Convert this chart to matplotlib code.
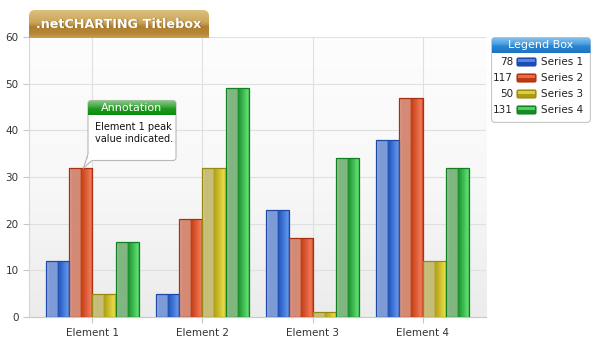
import numpy as np
import matplotlib
matplotlib.use("Agg")
import matplotlib.pyplot as plt
from matplotlib.patches import FancyBboxPatch, Rectangle
from matplotlib.colors import to_rgb

categories = ["Element 1", "Element 2", "Element 3", "Element 4"]
series_names = ["Series 1", "Series 2", "Series 3", "Series 4"]
series_1 = [12, 5, 23, 38]
series_2 = [32, 21, 17, 47]
series_3 = [5, 32, 1, 12]
series_4 = [16, 49, 34, 32]
series_values = [series_1, series_2, series_3, series_4]
y_ticks = [0, 10, 20, 30, 40, 50, 60]

# (muted left face, dark right face, bright right face, outline)
palettes = [
    ("#7d9bd6", "#1b4eb5", "#6096ee", "#1d48a8"),
    ("#d48a74", "#c0390f", "#f27a58", "#a83010"),
    ("#c6be78", "#ad9c12", "#e8dc48", "#978810"),
    ("#80b680", "#178a28", "#60e072", "#108020"),
]

W, H = 600, 343
fig = plt.figure(figsize=(W / 100, H / 100), dpi=100)
fig.patch.set_facecolor("white")


def fbox(x0, y0, x1, y1):
    """Pixel box (top-left origin) to figure-fraction rect."""
    return [x0 / W, 1 - y1 / H, (x1 - x0) / W, (y1 - y0) / H]


def mix(c1, c2, t):
    a, b = np.array(to_rgb(c1)), np.array(to_rgb(c2))
    return a * (1 - t) + b * t


def bar_gradient(pal, n=64):
    muted, dark, bright, edge = pal
    t = np.linspace(0, 1, n)
    cols = []
    for v in t:
        if v < 0.48:
            c = mix(mix(muted, "white", 0.35), muted, min(v / 0.12, 1.0))
        elif v < 0.92:
            c = mix(dark, bright, (v - 0.48) / 0.44)
        else:
            c = mix(bright, dark, (v - 0.92) / 0.08 * 0.6)
        cols.append(c)
    return np.array(cols)[None, :, :]


def vgrad(stops, n=64):
    t = np.linspace(0, 1, n)
    pos = [s[0] for s in stops]
    cols = [np.array(to_rgb(s[1])) for s in stops]
    out = np.zeros((n, 1, 3))
    for i, v in enumerate(t):
        out[i, 0] = [np.interp(v, pos, [c[k] for c in cols]) for k in range(3)]
    return out


# ---- main plot area ----
ax = fig.add_axes(fbox(29, 37, 486, 317))
ax.set_zorder(1)
bg = vgrad([(0, "#fdfdfd"), (0.5, "#f8f8f8"), (1, "#ececec")])
ax.imshow(bg, extent=[0, 1, 0, 1], transform=ax.transAxes, aspect="auto", zorder=0)

x = np.arange(len(categories))
bw = 0.211
offsets = (np.arange(4) - 1.5) * bw
for s, vals in enumerate(series_values):
    pal = palettes[s]
    bars = ax.bar(x + offsets[s], vals, width=bw, facecolor="none",
                  edgecolor=pal[3], linewidth=0.9, zorder=4)
    grad = bar_gradient(pal)
    for r in bars:
        x0, y0 = r.get_x(), r.get_y()
        im = ax.imshow(grad, extent=[x0, x0 + r.get_width(), y0, y0 + r.get_height()],
                       aspect="auto", zorder=3, interpolation="bilinear")
        im.set_clip_path(r)

ax.set_xlim(-0.577, 3.577)
ax.set_ylim(0, 60)
ax.set_yticks(y_ticks)
ax.set_xticks(x)
ax.set_xticklabels(categories)
ax.grid(True, color="#e0e0e0", linewidth=0.8, zorder=1)
ax.set_axisbelow(True)
for sp in ["top", "right"]:
    ax.spines[sp].set_visible(False)
ax.spines["left"].set_color("#d6d6d6")
ax.spines["bottom"].set_color("#c8c8c8")
ax.tick_params(axis="both", colors="#c8c8c8", labelcolor="#333333", labelsize=7.5,
               length=4, width=0.8)
ax.tick_params(axis="x", pad=4)

# ---- title tab ----
tax = fig.add_axes(fbox(29, 10, 209, 38))
tax.set_axis_off()
tax.set_xlim(29, 209)
tax.set_ylim(38, 10)
tax.set_zorder(2)
tg = vgrad([(0, "#dcc07e"), (0.45, "#c9a55a"), (0.6, "#b07f2c"), (0.85, "#b5873a"), (1, "#c9a04c")])
im = tax.imshow(tg, extent=[29, 209, 38, 10], aspect="auto", zorder=1)
clip = FancyBboxPatch((29, 10), 180, 40, boxstyle="round,pad=0,rounding_size=6",
                      facecolor="none", edgecolor="none")
tax.add_patch(clip)
im.set_clip_path(clip)
tfont = dict(ha="center", va="center", fontsize=9.2, fontweight="bold",
             family="DejaVu Sans", zorder=3)
tax.text(119.7, 24.7, ".netCHARTING Titlebox", color="#6a4a18", alpha=0.5, **tfont)
tax.text(119, 24, ".netCHARTING Titlebox", color="white", **tfont)

# ---- legend box ----
lax = fig.add_axes(fbox(491, 37, 591, 123))
lax.set_axis_off()
lax.set_xlim(491, 591)
lax.set_ylim(123, 37)
lax.set_zorder(2)
lframe = FancyBboxPatch((491.5, 37.5), 99, 85, boxstyle="round,pad=0,rounding_size=4",
                        facecolor="white", edgecolor="#c8c8c8", linewidth=0.9, zorder=1)
lax.add_patch(lframe)
hg = vgrad([(0, "#8cc4ec"), (0.45, "#4a9ee0"), (0.55, "#2a86d2"), (1, "#1a74c4")])
him = lax.imshow(hg, extent=[491.5, 590.5, 53, 37.5], aspect="auto", zorder=2)
hclip = FancyBboxPatch((491.5, 37.5), 99, 30, boxstyle="round,pad=0,rounding_size=4",
                       facecolor="none", edgecolor="none")
lax.add_patch(hclip)
him.set_clip_path(hclip)
lax.text(541, 45.5, "Legend Box", ha="center", va="center", color="white", fontsize=8,
         zorder=3)
for i, name in enumerate(series_names):
    yc = 62 + i * 16
    lax.text(513, yc, str(sum(series_values[i])), ha="right", va="center",
             fontsize=7.5, color="#222222", zorder=3)
    pal = palettes[i]
    lax.add_patch(FancyBboxPatch((517, yc - 4), 19, 8, boxstyle="round,pad=0,rounding_size=1.5",
                                 facecolor=pal[1], edgecolor=pal[3], linewidth=0.8, zorder=3))
    lax.add_patch(Rectangle((518, yc - 3.2), 17, 3, facecolor=pal[2], edgecolor="none",
                            alpha=0.8, zorder=4))
    lax.text(541, yc, name, ha="left", va="center", fontsize=7.5, color="#222222", zorder=3)

# ---- annotation callout ----
aax = fig.add_axes(fbox(80, 98, 180, 172))
aax.set_axis_off()
aax.set_xlim(80, 180)
aax.set_ylim(172, 98)
aax.set_zorder(3)
aax.add_patch(FancyBboxPatch((88, 100.5), 88, 60, boxstyle="round,pad=0,rounding_size=3",
                             facecolor="white", edgecolor="#b8b8b8", linewidth=0.8, zorder=1))
ag = vgrad([(0, "#8ccc8c"), (0.4, "#4aaa4a"), (0.6, "#1a9a1a"), (1, "#0c8a0c")])
aim = aax.imshow(ag, extent=[88, 176, 115, 100.5], aspect="auto", zorder=2)
aclip = FancyBboxPatch((88, 100.5), 88, 25, boxstyle="round,pad=0,rounding_size=3",
                       facecolor="none", edgecolor="none")
aax.add_patch(aclip)
aim.set_clip_path(aclip)
aax.text(132, 108, "Annotation", ha="center", va="center", color="white", fontsize=8,
         zorder=3)
aax.text(95, 133, "Element 1 peak\nvalue indicated.", ha="left", va="center",
         fontsize=7, color="#111111", linespacing=1.25, zorder=3)
aax.plot([88, 83.5], [154, 168], color="#b8b8b8", linewidth=0.8, zorder=3)
aax.plot([88.2, 91.5], [159.8, 160.2], color="white", linewidth=1.4, zorder=3)
aax.plot([92, 83.5], [160.5, 168], color="#b8b8b8", linewidth=0.8, zorder=3)
aax.plot([88.6, 88.6], [155, 160], color="white", linewidth=1.2, zorder=3)

fig.savefig("out.png", dpi=100, facecolor="white")
